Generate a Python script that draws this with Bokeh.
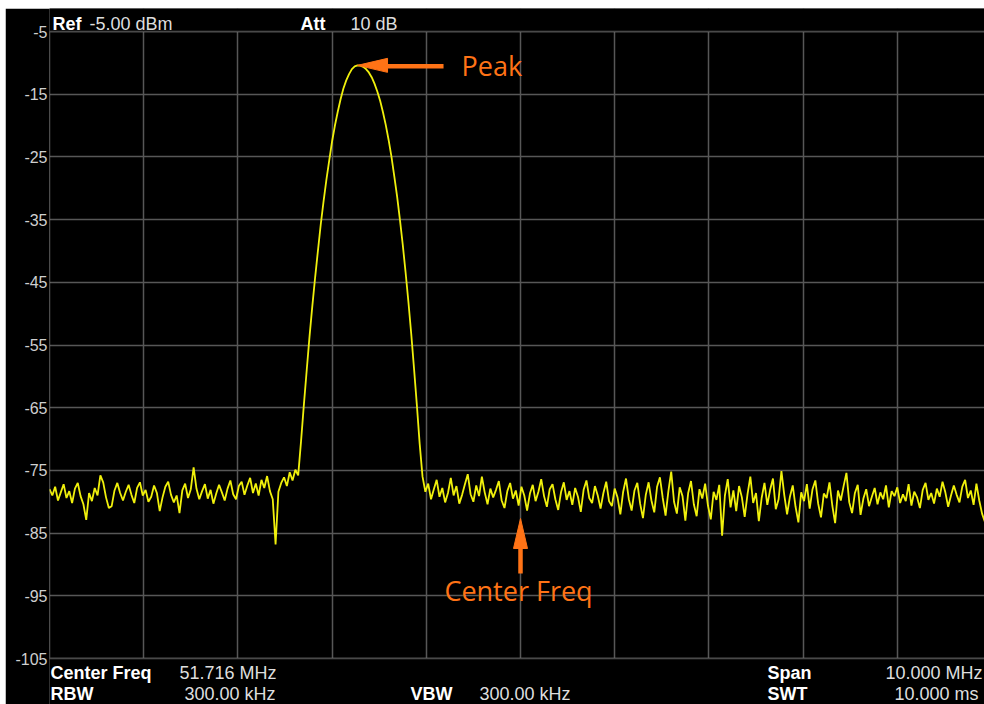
from bokeh.plotting import figure
from bokeh.models import Range1d, FixedTicker, Label, BoxAnnotation
from bokeh.embed import file_html
from bokeh.resources import INLINE

# ---------------- instrument settings ----------------
CENTER_FREQ_MHZ = 51.716
SPAN_MHZ = 10.0
REF_LEVEL_DBM = -5.0
DB_PER_DIV = 10.0
N_DIV = 10
STEP_MHZ = 0.03          # trace sample spacing
ATT_DB = 10
RBW_KHZ = 300.00
VBW_KHZ = 300.00
SWT_MS = 10.000

# ---------------- trace values (dBm) ----------------
noise_left_dbm = [
    -78.0, -79.0, -77.6, -79.8, -78.5, -77.2, -79.4, -78.3, -80.2, -77.9,
    -77.0, -79.1, -80.4, -82.9, -78.6, -79.9, -77.8, -79.0, -75.8, -76.9,
    -79.3, -81.0, -80.7, -78.2, -77.0, -78.6, -79.8, -78.4, -77.3, -78.9,
    -80.2, -77.8, -76.9, -79.0, -78.1, -80.0, -79.2, -77.4, -78.6, -81.5,
    -79.3, -77.6, -76.8, -78.9, -80.1, -79.0, -81.8, -78.2, -77.1, -79.4,
    -78.0, -74.5, -77.9, -79.6, -78.3, -77.2, -79.5, -78.1, -80.3, -78.7,
    -77.3, -78.5, -79.8, -77.9, -76.6, -78.8, -79.6, -77.5, -76.8, -78.9,
    -77.4, -76.2, -78.6, -77.1, -79.0, -76.5, -77.8, -75.9, -78.3, -79.6,
    -86.8, -78.4, -77.0, -76.1, -77.5, -75.3, -76.6, -74.9, -75.8,
]
peak_dbm = [
    -70.4, -64.6, -59.1, -53.7, -48.8, -44.2, -39.9, -35.7, -32.0, -28.6,
    -25.5, -22.5, -20.0, -17.8, -15.8, -14.1, -12.8, -11.8, -11.0, -10.55,
    -10.4,
    -10.45, -10.63, -10.99, -11.53, -12.29, -13.31, -14.56, -16.05, -17.87, -19.93,
    -22.3, -24.95, -28.05, -31.3, -35.0, -39.0, -43.4, -48.1, -53.2, -58.8,
    -64.6, -70.8, -76.0,
]
noise_right_dbm = [
    -78.4, -77.1, -79.6, -78.0, -76.5, -79.2, -77.8, -80.1, -78.6, -76.2,
    -79.0, -77.5, -80.3, -78.9, -77.2, -75.6, -78.8, -80.0, -77.4, -79.1,
    -76.0, -78.5, -80.4, -77.9, -79.3, -78.1, -76.7, -79.8, -81.0, -78.3,
    -77.0, -79.5, -78.2, -80.6, -77.6, -79.0, -81.4, -78.7, -77.3, -79.9,
    -78.4, -76.4, -79.1, -80.8, -78.0, -77.2, -79.6, -81.3, -78.5, -76.9,
    -79.7, -78.3, -80.5, -77.8, -79.2, -81.6, -78.1, -76.6, -79.4, -80.2,
    -77.5, -79.0, -81.1, -78.6, -76.8, -79.9, -80.7, -77.9, -79.3, -82.0,
    -78.4, -76.3, -79.6, -81.4, -78.2, -77.0, -80.3, -82.6, -78.9, -76.9,
    -79.8, -81.7, -77.6, -76.1, -79.4, -82.2, -78.3, -75.2, -80.0, -81.9,
    -77.7, -79.1, -83.0, -78.6, -76.7, -80.4, -82.3, -78.0, -79.5, -77.1,
    -80.6, -82.8, -78.4, -79.7, -77.3, -85.4, -79.0, -76.4, -80.9, -78.2,
    -81.5, -77.5, -79.3, -82.4, -78.8, -76.0, -80.2, -78.6, -83.1, -79.4,
    -77.0, -80.5, -78.1, -76.3, -81.2, -79.6, -75.1, -78.9, -82.0, -79.2,
    -77.4, -80.8, -83.3, -78.5, -79.9, -77.2, -81.1, -78.0, -76.6, -80.3,
    -82.5, -78.7, -79.4, -76.9, -80.6, -83.4, -78.2, -79.8, -77.5, -75.4,
    -80.1, -81.8, -78.6, -77.3, -82.1, -79.5, -78.0, -80.7, -79.2, -77.8,
    -80.4, -78.5, -79.6, -77.4, -80.9, -78.3, -79.1, -77.7, -80.2, -78.8,
    -79.9, -77.2, -80.6, -78.4, -79.3, -81.0, -78.1, -77.0, -79.7, -78.6,
    -80.3, -77.9, -79.2, -76.8, -78.5, -80.8, -79.0, -77.4, -78.9, -80.1,
    -77.6, -76.5, -79.4, -78.2, -80.5, -77.1, -79.8, -81.9, -83.2,
]
y_tick_values = [-5, -15, -25, -35, -45, -55, -65, -75, -85, -95, -105]

# ---------------- derived ----------------
F_START = CENTER_FREQ_MHZ - SPAN_MHZ / 2
MHZ_PER_DIV = SPAN_MHZ / N_DIV
Y_BOTTOM = REF_LEVEL_DBM - N_DIV * DB_PER_DIV
levels = noise_left_dbm + peak_dbm + noise_right_dbm
freqs = [F_START + STEP_MHZ * i for i in range(len(levels))]

# screen geometry of the analyser display (page pixels)
PAGE_W, PAGE_H = 984, 704
OFF_X, OFF_Y = 5, 8            # white strip left / top of the screenshot
GRID_LEFT_PX, GRID_TOP_PX = 49, 31
PX_PER_DIV_X, PX_PER_DIV_Y = 94.2, 62.7
MHZ_PER_PX = MHZ_PER_DIV / PX_PER_DIV_X
DB_PER_PX = DB_PER_DIV / PX_PER_DIV_Y


def at_px(px, py):
    """page pixel -> data coordinates"""
    return (F_START + (px - GRID_LEFT_PX) * MHZ_PER_PX,
            REF_LEVEL_DBM - (py - GRID_TOP_PX) * DB_PER_PX)


x_lo, y_hi = at_px(GRID_LEFT_PX, OFF_Y)
x_hi, y_lo = at_px(PAGE_W, PAGE_H)

ORANGE = "#ff7316"
YELLOW = "#f0f00c"
GRID = "#575757"
FRAME = "#8e8e8e"

p = figure(width=PAGE_W - OFF_X, height=PAGE_H - OFF_Y,
           x_range=Range1d(x_lo, x_hi), y_range=Range1d(y_lo, y_hi),
           output_backend="svg", toolbar_location=None,
           background_fill_color="black", border_fill_color="black",
           min_border_left=GRID_LEFT_PX - OFF_X, min_border_right=0,
           min_border_top=0, min_border_bottom=0)
p.margin = (OFF_Y, 0, 0, OFF_X)
p.outline_line_color = None

p.xaxis.visible = False
p.xgrid.ticker = FixedTicker(ticks=[F_START + k * MHZ_PER_DIV for k in range(N_DIV + 1)])
p.xgrid.grid_line_color = GRID
p.xgrid.grid_line_width = 1.5

p.yaxis.ticker = FixedTicker(ticks=y_tick_values)
p.yaxis.major_label_overrides = {v: str(v) for v in y_tick_values}
p.ygrid.ticker = FixedTicker(ticks=y_tick_values)
p.ygrid.grid_line_color = GRID
p.ygrid.grid_line_width = 1.5
p.yaxis.axis_line_color = None
p.yaxis.major_tick_line_color = None
p.yaxis.minor_tick_line_color = None
p.yaxis.major_tick_out = 0
p.yaxis.major_tick_in = 0
p.yaxis.major_label_standoff = 2
p.yaxis.major_label_text_font = "Liberation Sans"
p.yaxis.major_label_text_font_size = "16px"
p.yaxis.major_label_text_color = "#cfcfcf"

# trace
p.line(freqs, levels, line_color=YELLOW, line_width=1.8)

# black header / footer areas (graticule stops at the ref level and the bottom line)
p.add_layout(BoxAnnotation(bottom=REF_LEVEL_DBM, fill_color="black", fill_alpha=1.0, line_color=None))
p.add_layout(BoxAnnotation(top=Y_BOTTOM, fill_color="black", fill_alpha=1.0, line_color=None))
# graticule border
p.add_layout(BoxAnnotation(left=F_START, right=F_START + N_DIV * MHZ_PER_DIV,
                           bottom=Y_BOTTOM, top=REF_LEVEL_DBM,
                           fill_alpha=0.0, line_color=FRAME, line_width=2))

# ---------------- instrument texts ----------------
def txt(px, py, text, bold=False, color="#dedede", size="18px", font="Liberation Sans", align="left"):
    x, y = at_px(px, py)
    p.add_layout(Label(x=x, y=y, text=text, text_font=font, text_font_size=size,
                       text_font_style="bold" if bold else "normal",
                       text_color=color, text_baseline="middle", text_align=align))

txt(52, 23, "Ref", bold=True, color="white")
txt(89, 23, f"{REF_LEVEL_DBM:.2f} dBm")
txt(300, 23, "Att", bold=True, color="white")
txt(350, 23, f"{ATT_DB} dB")

ROW1, ROW2 = 672, 693
txt(50, ROW1, "Center Freq", bold=True, color="white")
txt(179, ROW1, f"{CENTER_FREQ_MHZ:.3f} MHz")
txt(767, ROW1, "Span", bold=True, color="white")
txt(885, ROW1, f"{SPAN_MHZ:.3f} MHz")
txt(50, ROW2, "RBW", bold=True, color="white")
txt(184, ROW2, f"{RBW_KHZ:.2f} kHz")
txt(410, ROW2, "VBW", bold=True, color="white")
txt(479, ROW2, f"{VBW_KHZ:.2f} kHz")
txt(767, ROW2, "SWT", bold=True, color="white")
txt(894, ROW2, f"{SWT_MS:.3f} ms")

# ---------------- annotations ----------------
i_pk = max(range(len(levels)), key=lambda i: levels[i])
pk_f, pk_v = freqs[i_pk], levels[i_pk]

HEAD_LEN, HEAD_HALF, SHAFT_W = 30, 7, 4.5
# Peak arrow (pointing left to the maximum)
p.patch([pk_f, pk_f + HEAD_LEN * MHZ_PER_PX, pk_f + HEAD_LEN * MHZ_PER_PX],
        [pk_v, pk_v + HEAD_HALF * DB_PER_PX, pk_v - HEAD_HALF * DB_PER_PX],
        fill_color=ORANGE, line_color=ORANGE, line_width=1)
p.segment(x0=[pk_f + (HEAD_LEN - 2) * MHZ_PER_PX], y0=[pk_v - 0.8 * DB_PER_PX],
          x1=[pk_f + 86 * MHZ_PER_PX], y1=[pk_v - 0.8 * DB_PER_PX],
          line_color=ORANGE, line_width=SHAFT_W)
lbl_x, _ = at_px(461, 0)
p.add_layout(Label(x=lbl_x, y=pk_v - 0.3 * DB_PER_PX, text="Peak", text_font="Open Sans",
                   text_font_size="27px", text_color=ORANGE, text_baseline="middle"))

# Center frequency arrow (pointing up)
_, tip_v = at_px(0, 518)
_, base_v = at_px(0, 548)
_, tail_v = at_px(0, 573)
p.patch([CENTER_FREQ_MHZ, CENTER_FREQ_MHZ - HEAD_HALF * MHZ_PER_PX, CENTER_FREQ_MHZ + HEAD_HALF * MHZ_PER_PX],
        [tip_v, base_v, base_v], fill_color=ORANGE, line_color=ORANGE, line_width=1)
p.segment(x0=[CENTER_FREQ_MHZ], y0=[base_v + 2 * DB_PER_PX], x1=[CENTER_FREQ_MHZ], y1=[tail_v],
          line_color=ORANGE, line_width=SHAFT_W)
_, cf_lbl_v = at_px(0, 590)
p.add_layout(Label(x=CENTER_FREQ_MHZ - 2 * MHZ_PER_PX, y=cf_lbl_v, text="Center Freq", text_font="Open Sans",
                   text_font_size="27px", text_color=ORANGE, text_baseline="middle", text_align="center"))

open("out.html", "w").write(file_html(p, INLINE))
